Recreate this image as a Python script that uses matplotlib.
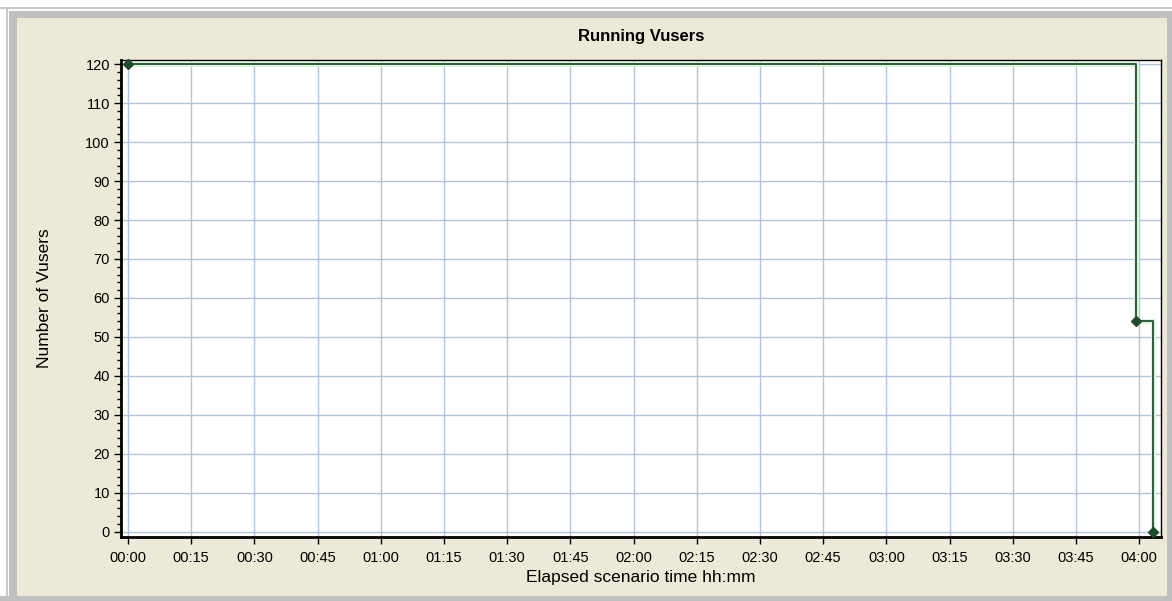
import matplotlib
matplotlib.use('Agg')
import matplotlib.pyplot as plt
from matplotlib.patches import Rectangle
from matplotlib.ticker import MultipleLocator, FuncFormatter

# elapsed minutes vs running vusers
elapsed_min = [0, 239.2, 243.4]
vusers = [120, 54, 0]
xtick_min = list(range(0, 241, 15))
ytick_vals = list(range(0, 121, 10))

plt.rcParams['font.family'] = ['Liberation Sans', 'DejaVu Sans']

fig = plt.figure(figsize=(11.72, 6.01), dpi=100)
fig.patch.set_facecolor('#ECE9D8')

# window frame around the chart
W, H = 1172.0, 601.0
def px_rect(x0, y0, x1, y1, color):
    fig.patches.append(Rectangle((x0 / W, 1 - y1 / H), (x1 - x0) / W, (y1 - y0) / H,
                                 transform=fig.transFigure, facecolor=color,
                                 edgecolor='none', zorder=-5))
px_rect(0, 0, W, 18, '#FFFFFF')
px_rect(0, 0, 17, H, '#FFFFFF')
px_rect(0, 7, W, 8.5, '#C8C8C8')
px_rect(6, 7, 7.5, H, '#C8C8C8')
px_rect(9, 11, W, 18, '#C0C0C0')
px_rect(9, 11, 17, H, '#C0C0C0')
px_rect(0, 596, W, H, '#C0C0C0')
px_rect(1167, 11, W, H, '#C0C0C0')

ax = fig.add_axes([121 / W, 64 / H, (1160.6 - 121) / W, (537 - 60) / H])
ax.set_facecolor('white')

ax.plot(elapsed_min, vusers, drawstyle='steps-post', color='#DCF4DC', lw=3.5,
        zorder=2, solid_capstyle='butt')
ax.plot(elapsed_min, vusers, drawstyle='steps-post', color='#2E5A3C', lw=1.4, zorder=3)
ax.plot(elapsed_min, vusers, linestyle='none', marker='D', ms=5,
        color='#1F4A2C', zorder=4, clip_on=False)

ax.set_xlim(-1.66, 245.1)
ax.set_ylim(-1.4, 121.1)
ax.set_xticks(xtick_min)
ax.xaxis.set_major_formatter(FuncFormatter(lambda v, p: '%02d:%02d' % (int(v) // 60, int(v) % 60)))
ax.set_yticks(ytick_vals)
ax.yaxis.set_minor_locator(MultipleLocator(2))

ax.grid(True, which='major', color='#B4C4D8', lw=1.0)
ax.set_axisbelow(True)

for s in ['top', 'right']:
    ax.spines[s].set_linewidth(1.0)
for s in ['left', 'bottom']:
    ax.spines[s].set_linewidth(2.0)

ax.tick_params(axis='both', which='major', length=5, width=1, labelsize=10.5, colors='black')
ax.tick_params(axis='y', which='minor', length=3, width=1)
ax.tick_params(axis='x', pad=5)
ax.tick_params(axis='y', pad=3)

ax.set_title('Running Vusers', fontsize=12, fontweight='bold', pad=14)
ax.set_xlabel('Elapsed scenario time hh:mm', fontsize=12.5, labelpad=4)
ax.set_ylabel('Number of Vusers', fontsize=12.5, labelpad=24)

fig.savefig('out.png', dpi=100, facecolor=fig.get_facecolor())
